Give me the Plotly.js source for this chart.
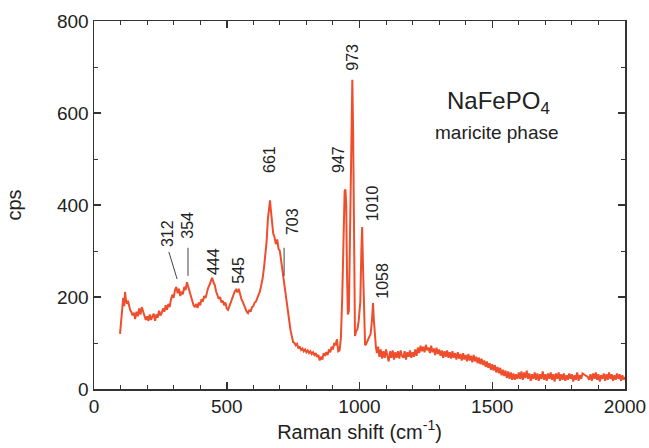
<!DOCTYPE html>
<html>
<head>
<meta charset="utf-8">
<script src="https://cdn.plot.ly/plotly-3.0.1.min.js"></script>
<style>html,body{margin:0;padding:0;background:#fff;}#chart{width:649px;height:448px;}</style>
</head>
<body>
<div id="chart"></div>
<script>
// Raman shift (cm-1) and intensity (cps)
const shift = [98,102,106,110,114,117,120,124,128,132,136,140,145,150,155,160,165,170,175,180,185,190,195,200,205,210,215,220,225,230,235,240,245,250,255,260,265,270,275,280,285,290,295,300,305,310,315,320,325,330,335,340,345,350,355,360,365,370,375,380,385,390,395,400,405,410,415,420,425,430,435,440,445,450,455,460,465,470,475,480,485,490,495,500,505,510,515,520,525,530,535,540,545,550,555,560,565,570,575,580,585,590,595,600,605,610,615,620,625,630,635,640,645,650,655,660,663,666,670,675,680,685,690,695,700,705,710,715,720,725,730,735,740,745,750,755,760,765,770,775,780,785,790,795,800,805,810,815,820,825,830,835,840,845,850,855,860,865,870,875,880,885,890,895,900,905,910,915,920,925,930,935,940,944,947,950,953,956,960,963,967,970,973,976,979,983,987,992,997,1003,1007,1010,1013,1017,1021,1025,1030,1036,1042,1047,1051,1054,1058,1062,1066,1070,1075,1080,1085,1090,1095,1100,1105,1110,1115,1120,1125,1130,1135,1140,1145,1150,1155,1160,1165,1170,1175,1180,1185,1190,1195,1200,1205,1210,1215,1220,1225,1230,1235,1240,1245,1250,1255,1260,1265,1270,1275,1280,1285,1290,1295,1300,1305,1310,1315,1320,1325,1330,1335,1340,1345,1350,1355,1360,1365,1370,1375,1380,1385,1390,1395,1400,1405,1410,1415,1420,1425,1430,1435,1440,1445,1450,1455,1460,1465,1470,1475,1480,1485,1490,1495,1500,1505,1510,1515,1520,1525,1530,1535,1540,1545,1550,1555,1560,1565,1570,1575,1580,1585,1590,1595,1600,1605,1610,1615,1620,1625,1630,1635,1640,1645,1650,1655,1660,1665,1670,1675,1680,1685,1690,1695,1700,1705,1710,1715,1720,1725,1730,1735,1740,1745,1750,1755,1760,1765,1770,1775,1780,1785,1790,1795,1800,1805,1810,1815,1820,1825,1830,1835,1840,1850,1860,1865,1870,1875,1880,1885,1890,1895,1900,1905,1910,1915,1920,1925,1930,1935,1940,1945,1950,1955,1960,1965,1970,1975,1980,1985,1990,1995,2000];
const cps = [120,150,185,198,180,211,195,185,192,178,172,168,160,166,152,168,158,175,162,178,168,160,150,158,148,162,150,158,164,148,162,155,170,160,165,175,168,182,172,185,178,195,205,198,215,222,208,218,202,212,206,222,215,232,222,210,200,192,182,178,185,176,188,182,195,190,202,198,212,220,226,236,242,232,226,212,205,196,200,188,192,182,188,175,172,180,190,198,205,212,216,210,218,205,196,190,182,172,168,165,172,168,178,180,188,190,196,205,212,225,240,262,285,320,370,400,410,390,360,338,330,315,325,305,300,280,255,240,215,195,170,150,128,112,102,100,95,98,88,92,85,88,82,86,80,84,78,82,76,80,74,78,70,74,62,70,64,78,72,80,74,86,80,92,86,100,95,108,82,84,112,200,360,430,434,400,250,162,170,300,500,640,672,560,300,115,125,130,148,190,300,352,270,150,95,98,105,115,120,150,187,150,110,90,78,92,70,86,66,82,68,86,72,60,82,68,84,64,80,68,82,66,84,72,68,82,64,80,70,84,68,80,70,86,72,90,78,94,82,92,80,96,84,90,78,94,80,88,74,90,76,86,72,84,68,82,70,84,68,80,66,82,68,78,64,80,66,76,62,78,64,74,60,76,62,72,58,74,60,70,56,68,54,66,52,62,48,60,46,56,42,54,40,52,36,48,34,46,30,42,28,40,24,38,22,36,20,34,20,32,22,36,22,38,20,36,24,40,22,34,18,32,22,36,20,34,18,32,22,38,20,32,18,34,22,36,20,32,16,34,22,36,18,32,20,34,18,30,20,34,22,32,16,30,20,36,18,30,22,34,30,26,20,32,18,34,22,36,20,32,16,30,22,34,18,32,20,36,22,32,18,30,20,34,22,32,18,30,20,26];

// Peak labels
const peakLabels = ["312","354","444","545","661","703","947","973","1010","1058"];
const labelX = [279,354,448,546,659,746,919,975,1047,1088];
const labelY = [337,357,278,259,500,363,500,722,404,235];

const fam = "Liberation Sans, Arial, Helvetica, sans-serif";
const textFont = {family: fam, size: 16, color: "#222"};

const annotations = peakLabels.map((t, i) => ({
  x: labelX[i], y: labelY[i], xref: "x", yref: "y", text: t, showarrow: false,
  textangle: -90, font: textFont, xanchor: "center", yanchor: "middle"
}));
annotations.push({x: 1522, y: 622, xref: "x", yref: "y", text: "NaFePO<sub>4</sub>", showarrow: false,
  font: {family: fam, size: 24, color: "#222"}});
annotations.push({x: 1518, y: 557, xref: "x", yref: "y", text: "maricite phase", showarrow: false,
  font: {family: fam, size: 19, color: "#222"}});

const shapes = [
  {type: "line", xref: "x", yref: "y", x0: 282, y0: 298, x1: 313, y1: 239, line: {color: "#444", width: 1}},
  {type: "line", xref: "x", yref: "y", x0: 354, y0: 307, x1: 354, y1: 246, line: {color: "#444", width: 1}},
  {type: "line", xref: "x", yref: "y", x0: 716, y0: 307, x1: 716, y1: 246, line: {color: "#444", width: 1}}
];

const axisFont = {family: fam, size: 19, color: "#222"};
const titleFont = {family: fam, size: 20, color: "#222"};

const layout = {
  width: 649, height: 448,
  margin: {l: 94, r: 24, t: 21, b: 59},
  paper_bgcolor: "#fff", plot_bgcolor: "#fff",
  showlegend: false,
  xaxis: {
    range: [0, 2000], dtick: 500, tick0: 0,
    showline: true, linecolor: "#333", linewidth: 1.5, mirror: "ticks",
    ticks: "inside", ticklen: 7, tickcolor: "#333", tickwidth: 1.5,
    minor: {dtick: 100, ticks: "inside", ticklen: 4, tickcolor: "#333", tickwidth: 1},
    showgrid: false, zeroline: false, tickfont: axisFont,
    title: {text: "Raman shift (cm<sup>-1</sup>)", font: titleFont, standoff: 7}
  },
  yaxis: {
    range: [0, 800], dtick: 200, tick0: 0,
    showline: true, linecolor: "#333", linewidth: 1.5, mirror: "ticks",
    ticks: "inside", ticklen: 7, tickcolor: "#333", tickwidth: 1.5,
    minor: {dtick: 100, ticks: "inside", ticklen: 4, tickcolor: "#333", tickwidth: 1},
    showgrid: false, zeroline: false, tickfont: axisFont,
    title: {text: "cps", font: titleFont, standoff: 30}
  },
  annotations: annotations,
  shapes: shapes
};

Plotly.newPlot("chart", [{
  x: shift, y: cps, type: "scatter", mode: "lines",
  line: {color: "#ef4e2c", width: 2}, hoverinfo: "skip"
}], layout, {displayModeBar: false, staticPlot: true});
</script>
</body>
</html>
